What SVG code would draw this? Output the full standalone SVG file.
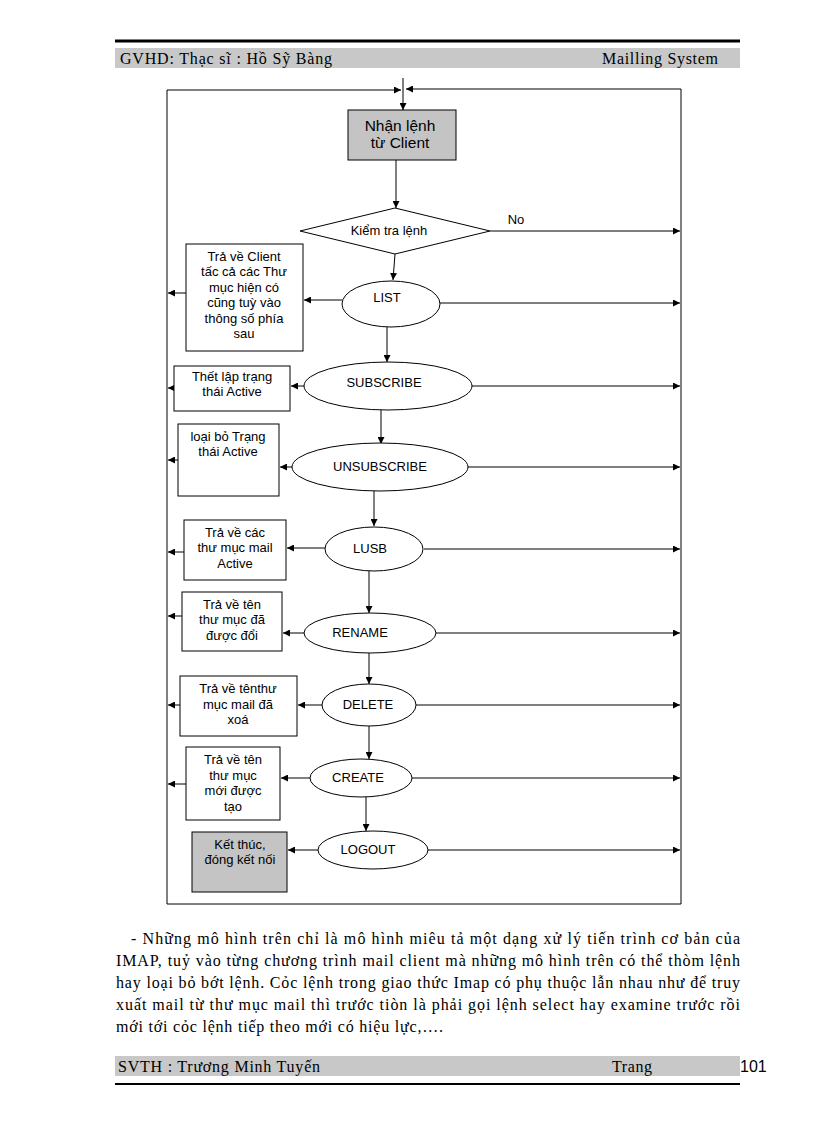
<svg xmlns="http://www.w3.org/2000/svg" width="816" height="1123" viewBox="0 0 816 1123">
<defs>
<marker id="ah" viewBox="0 0 10 10" refX="10" refY="5" markerWidth="7" markerHeight="7" markerUnits="userSpaceOnUse" orient="auto"><path d="M0,0 L10,5 L0,10 z" fill="#000"/></marker>
</defs>
<style>
.ln{stroke:#000;stroke-width:1;fill:none}
.ar{stroke:#000;stroke-width:1;fill:none;marker-end:url(#ah)}
.bx{fill:#fff;stroke:#000;stroke-width:1}
.gb{fill:#c4c4c4;stroke:#000;stroke-width:1}
.el{fill:#fff;stroke:#000;stroke-width:1}
.t{font-family:"Liberation Sans",Arial,sans-serif;font-size:13px;fill:#000;text-anchor:middle}
.tb{font-family:"Liberation Sans",Arial,sans-serif;font-size:15.5px;fill:#000;text-anchor:middle}
.tr{font-family:"Liberation Serif","Times New Roman",serif;font-size:16px;fill:#000}
.band{fill:#c8c8c8}
</style>
<rect width="816" height="1123" fill="#fff"/>
<g id="header">
<line x1="115" y1="41" x2="740" y2="41" stroke="#000" stroke-width="3"/>
<rect class="band" x="115" y="48" width="625" height="20"/>
<text class="tr" x="120" y="64" textLength="212" lengthAdjust="spacing">GVHD: Thạc sĩ : Hồ Sỹ Bàng</text>
<text class="tr" x="602" y="64" textLength="116" lengthAdjust="spacing">Mailling System</text>
</g>
<g id="connectors">
<polyline class="ln" points="167,904 167,90"/>
<polyline class="ln" points="167,904 681,904 681,89"/>
<line class="ar" x1="167" y1="90" x2="401" y2="90"/>
<line class="ar" x1="681" y1="89" x2="406" y2="89"/>
<line class="ar" x1="403" y1="78" x2="403" y2="110"/>
<line class="ar" x1="396" y1="160" x2="396" y2="208"/>
<line class="ar" x1="490" y1="231" x2="680" y2="231"/>
<line class="ar" x1="395" y1="254" x2="393" y2="280"/>
<line class="ar" x1="440" y1="303" x2="680" y2="303"/>
<line class="ar" x1="342" y1="300" x2="304" y2="300"/>
<line class="ar" x1="186" y1="293" x2="168" y2="293"/>
<line class="ar" x1="387" y1="327" x2="387" y2="362"/>
<line class="ar" x1="472" y1="386" x2="680" y2="386"/>
<line class="ar" x1="304" y1="386" x2="291" y2="386"/>
<line class="ar" x1="174" y1="388" x2="168" y2="388"/>
<line class="ar" x1="381" y1="410" x2="381" y2="444"/>
<line class="ar" x1="468" y1="467" x2="680" y2="467"/>
<line class="ar" x1="292" y1="467" x2="280" y2="467"/>
<line class="ar" x1="178" y1="460" x2="168" y2="460"/>
<line class="ar" x1="374" y1="491" x2="374" y2="526"/>
<line class="ar" x1="424" y1="549" x2="680" y2="549"/>
<line class="ar" x1="325" y1="548" x2="287" y2="548"/>
<line class="ar" x1="184" y1="552" x2="168" y2="552"/>
<line class="ar" x1="369" y1="571" x2="369" y2="613"/>
<line class="ar" x1="436" y1="633" x2="680" y2="633"/>
<line class="ar" x1="305" y1="633" x2="283" y2="633"/>
<line class="ar" x1="182" y1="616" x2="168" y2="616"/>
<line class="ar" x1="369" y1="653" x2="369" y2="684"/>
<line class="ar" x1="416" y1="705" x2="680" y2="705"/>
<line class="ar" x1="322" y1="705" x2="298" y2="705"/>
<line class="ar" x1="180" y1="705" x2="168" y2="705"/>
<line class="ar" x1="369" y1="726" x2="369" y2="759"/>
<line class="ar" x1="412" y1="778" x2="680" y2="778"/>
<line class="ar" x1="310" y1="778" x2="281" y2="778"/>
<line class="ar" x1="186" y1="784" x2="168" y2="784"/>
<line class="ar" x1="366" y1="797" x2="366" y2="831"/>
<line class="ar" x1="428" y1="850" x2="680" y2="850"/>
<line class="ar" x1="318" y1="850" x2="288" y2="850"/>
</g>
<g id="nhan-lenh">
<rect class="gb" x="348" y="110" width="108" height="50"/>
<text class="tb" x="400" y="131">Nhận lệnh</text>
<text class="tb" x="400" y="148">từ Client</text>
</g>
<g id="kiem-tra">
<polygon class="bx" points="395,208 490,231 395,254 300,231"/>
<text class="t" x="389" y="235">Kiểm tra lệnh</text>
<text class="t" x="516" y="224">No</text>
</g>
<g id="list">
<ellipse class="el" cx="391" cy="304" rx="49" ry="23"/>
<text class="t" x="387" y="302">LIST</text>
</g>
<g id="list-box">
<rect class="bx" x="186" y="244" width="117" height="107"/>
<text class="t" x="244" y="261">Trả  về  Client</text>
<text class="t" x="244" y="276">tấc cả các Thư</text>
<text class="t" x="244" y="292">mục hiện có</text>
<text class="t" x="244" y="307">cũng tuỳ vào</text>
<text class="t" x="244" y="323">thông số phía</text>
<text class="t" x="244" y="338">sau</text>
</g>
<g id="subscribe">
<ellipse class="el" cx="388" cy="386" rx="84" ry="24"/>
<text class="t" x="384" y="387">SUBSCRIBE</text>
</g>
<g id="subscribe-box">
<rect class="bx" x="174" y="366" width="116" height="45"/>
<text class="t" x="232" y="381">Thết lập trạng</text>
<text class="t" x="232" y="396">thái Active</text>
</g>
<g id="unsubscribe">
<ellipse class="el" cx="380" cy="467" rx="88" ry="24"/>
<text class="t" x="380" y="471">UNSUBSCRIBE</text>
</g>
<g id="unsubscribe-box">
<rect class="bx" x="178" y="424" width="101" height="72"/>
<text class="t" x="228" y="441">loại bỏ Trạng</text>
<text class="t" x="228" y="456">thái Active</text>
</g>
<g id="lusb">
<ellipse class="el" cx="374" cy="549" rx="49" ry="22"/>
<text class="t" x="370" y="553">LUSB</text>
</g>
<g id="lusb-box">
<rect class="bx" x="184" y="520" width="102" height="60"/>
<text class="t" x="235" y="537">Trả  về  các</text>
<text class="t" x="235" y="552">thư mục mail</text>
<text class="t" x="235" y="568">Active</text>
</g>
<g id="rename">
<ellipse class="el" cx="370" cy="633" rx="66" ry="20"/>
<text class="t" x="360" y="637">RENAME</text>
</g>
<g id="rename-box">
<rect class="bx" x="182" y="592" width="100" height="59"/>
<text class="t" x="232" y="609">Trả  về  tên</text>
<text class="t" x="232" y="624">thư mục đã</text>
<text class="t" x="232" y="640">được đổi</text>
</g>
<g id="delete">
<ellipse class="el" cx="369" cy="705" rx="47" ry="21"/>
<text class="t" x="368" y="709">DELETE</text>
</g>
<g id="delete-box">
<rect class="bx" x="180" y="676" width="117" height="60"/>
<text class="t" x="238" y="693">Trả  về  tênthư</text>
<text class="t" x="238" y="709">mục mail đã</text>
<text class="t" x="238" y="724">xoá</text>
</g>
<g id="create">
<ellipse class="el" cx="361" cy="778" rx="51" ry="19"/>
<text class="t" x="358" y="782">CREATE</text>
</g>
<g id="create-box">
<rect class="bx" x="186" y="747" width="94" height="73"/>
<text class="t" x="233" y="764">Trả  về  tên</text>
<text class="t" x="233" y="780">thư mục</text>
<text class="t" x="233" y="795">mới được</text>
<text class="t" x="233" y="811">tạo</text>
</g>
<g id="logout">
<ellipse class="el" cx="373" cy="850" rx="55" ry="19"/>
<text class="t" x="368" y="854">LOGOUT</text>
</g>
<g id="logout-box">
<rect class="gb" x="192" y="832" width="95" height="60"/>
<text class="t" x="240" y="849">Kết thúc,</text>
<text class="t" x="240" y="864">đóng  kết nối</text>
</g>
<g id="body">
<text class="tr" x="131" y="944" textLength="609" lengthAdjust="spacing">- Những mô hình trên chỉ là mô hình miêu tả một dạng  xử lý tiến trình cơ bản  của</text>
<text class="tr" x="116" y="966" textLength="624" lengthAdjust="spacing">IMAP, tuỷ vào từng chương trình mail client mà những mô hình trên có thể thòm lệnh</text>
<text class="tr" x="116" y="988" textLength="624" lengthAdjust="spacing">hay  loại bỏ bớt lệnh. Cỏc lệnh trong giao thức Imap có phụ thuộc lẫn nhau như để truy</text>
<text class="tr" x="116" y="1010" textLength="624" lengthAdjust="spacing">xuất mail từ thư mục mail thì trước tiòn là phải gọi lệnh select hay examine trước rồi</text>
<text class="tr" x="116" y="1032" textLength="327" lengthAdjust="spacing">mới tới cỏc lệnh tiếp theo mới có hiệu lực,….</text>
</g>
<g id="footer">
<rect class="band" x="115" y="1056" width="625" height="20"/>
<text class="tr" x="118" y="1072" textLength="202" lengthAdjust="spacing">SVTH  : Trương  Minh Tuyến</text>
<text class="tr" x="612" y="1072" textLength="40" lengthAdjust="spacing">Trang</text>
<text x="740" y="1072" font-family="Liberation Sans, Arial, sans-serif" font-size="16" fill="#000">101</text>
<line x1="115" y1="1084" x2="740" y2="1084" stroke="#000" stroke-width="2"/>
</g>
</svg>
